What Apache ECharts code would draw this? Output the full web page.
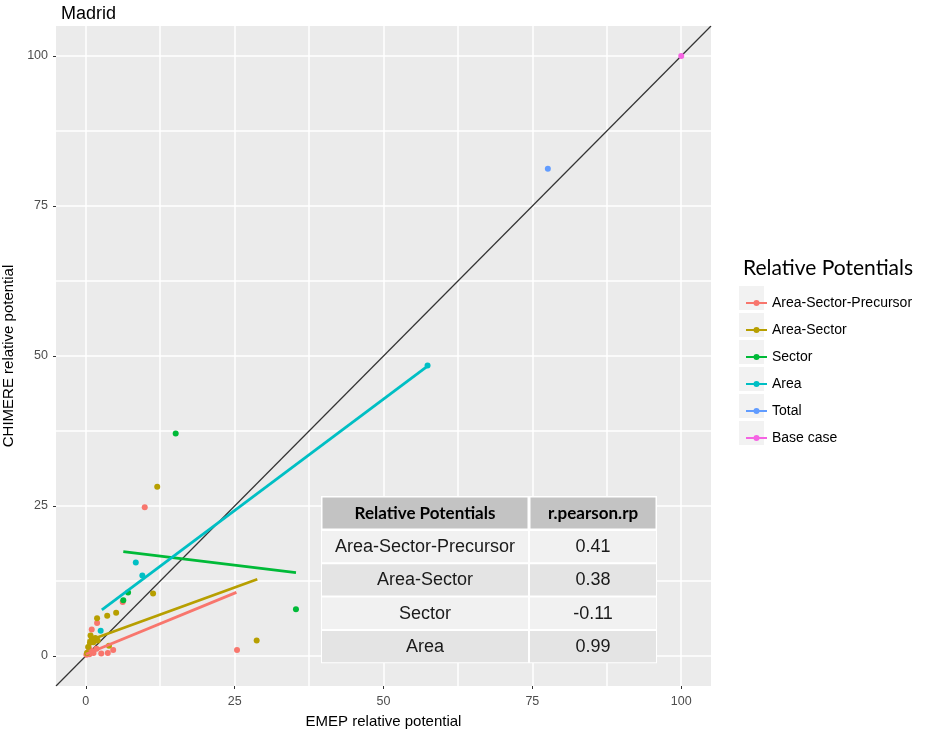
<!DOCTYPE html>
<html>
<head>
<meta charset="utf-8">
<script src="https://cdn.jsdelivr.net/npm/echarts@6/dist/echarts.min.js"></script>
<style>
html,body{margin:0;padding:0;background:#fff;}
#chart{width:925px;height:733px;}
</style>
</head>
<body>
<div id="chart"></div>
<script>
// ---- data ----
const categories = ['Area-Sector-Precursor', 'Area-Sector', 'Sector', 'Area', 'Total', 'Base case'];

const aspPoints = [[0.1,0.2],[0.3,0.6],[0.6,0.3],[0.9,0.9],[1.3,0.5],[0.5,1.4],[1.8,1.2],[2.6,0.4],[3.7,0.5],[4.6,1.0],[1.0,4.4],[1.9,5.5],[6.2,9.0],[9.9,24.8],[25.4,1.0]];
const asPoints = [[0.2,0.5],[0.4,1.5],[0.7,2.2],[1.0,2.8],[1.3,2.3],[1.6,3.0],[2.0,2.6],[0.8,3.4],[3.9,1.7],[1.9,6.3],[3.6,6.7],[5.1,7.2],[11.3,10.4],[12.0,28.2],[28.7,2.6]];
const sectorPoints = [[6.3,9.3],[7.1,10.6],[15.1,37.1],[35.3,7.8]];
const areaPoints = [[2.5,4.2],[8.4,15.6],[9.5,13.4],[57.4,48.4]];
const totalPoints = [[77.6,81.2]];
const baseCasePoints = [[100,100]];

const aspFit = [[0.0,0.3],[25.3,10.6]];
const asFit = [[0.3,2.5],[28.8,12.8]];
const sectorFit = [[6.3,17.4],[35.3,13.9]];
const areaFit = [[2.7,7.7],[57.4,48.3]];
const identityLine = [[-5,-5],[105,105]];

const tickValues = [0, 25, 50, 75, 100];
const gridValues = [0, 12.5, 25, 37.5, 50, 62.5, 75, 87.5, 100];

const tableHeader = ['Relative Potentials', 'r.pearson.rp'];
const tableNames = ['Area-Sector-Precursor', 'Area-Sector', 'Sector', 'Area'];
const tableR = ['0.41', '0.38', '-0.11', '0.99'];

// ---- style ----
const palette = ['#F8766D', '#B79F00', '#00BA38', '#00BFC4', '#619CFF', '#F564E3'];
const FONT = '"Liberation Sans", Arial, sans-serif';

const pointSets = [aspPoints, asPoints, sectorPoints, areaPoints, totalPoints, baseCasePoints];
const fitSets = [aspFit, asFit, sectorFit, areaFit];

const chart = echarts.init(document.getElementById('chart'));

const series = [];
series.push({
  name: 'identity', type: 'line', data: identityLine, xAxisIndex: 0, yAxisIndex: 0,
  symbol: 'none', silent: true, z: 1,
  lineStyle: { color: '#333333', width: 1.2 }
});
categories.forEach((c, i) => {
  series.push({
    name: c, type: 'scatter', data: pointSets[i], xAxisIndex: 0, yAxisIndex: 0,
    symbol: 'circle', symbolSize: 6, z: 2,
    itemStyle: { color: palette[i], opacity: 1 }
  });
});
fitSets.forEach((f, i) => {
  series.push({
    name: categories[i], type: 'line', data: f, xAxisIndex: 0, yAxisIndex: 0,
    symbol: 'none', z: 3,
    itemStyle: { color: palette[i] },
    lineStyle: { color: palette[i], width: 2.8 }
  });
});

const legendIcon = 'path://M0,0h0.01v0.01h-0.01z M20.99,26.99h0.01v0.01h-0.01z M0,12.5h7.6v2h-7.6z M13.4,12.5h7.6v2h-7.6z M7.5,13.5a3,3 0 1,1 6,0a3,3 0 1,1 -6,0z';

// table graphic
const tbl = { left: 321, top: 496, w1: 208, w2: 128, hh: 34, rh: 33.3 };
const tableEls = [];
const tblW = tbl.w1 + tbl.w2, tblH = tbl.hh + tbl.rh * tableNames.length;
tableEls.push({ type: 'rect', shape: { x: tbl.left, y: tbl.top, width: tblW, height: tblH }, style: { fill: '#ffffff' }, z: 10 });
[tbl.w1, tbl.w2].forEach((w, j) => {
  const x = tbl.left + (j === 0 ? 0 : tbl.w1);
  tableEls.push({ type: 'rect', shape: { x: x + 1.5, y: tbl.top + 1.5, width: w - 3, height: tbl.hh - 3 }, style: { fill: '#c3c3c3' }, z: 11 });
  tableEls.push({ type: 'text', x: x + w / 2, y: tbl.top + tbl.hh / 2 + 1, style: { text: tableHeader[j], fill: '#000', font: 'bold 17px Lato, "Open Sans", sans-serif', align: 'center', verticalAlign: 'middle' }, z: 12 });
});
tableNames.forEach((n, r) => {
  const y = tbl.top + tbl.hh + r * tbl.rh;
  const fill = r % 2 === 0 ? '#f1f1f1' : '#e4e4e4';
  [n, tableR[r]].forEach((t, j) => {
    const w = j === 0 ? tbl.w1 : tbl.w2;
    const x = tbl.left + (j === 0 ? 0 : tbl.w1);
    tableEls.push({ type: 'rect', shape: { x: x + 1, y: y + 1, width: w - 2, height: tbl.rh - 2 }, style: { fill: fill }, z: 11 });
    tableEls.push({ type: 'text', x: x + w / 2, y: y + tbl.rh / 2 + 0.5, style: { text: t, fill: '#1a1a1a', font: '18px ' + FONT, align: 'center', verticalAlign: 'middle' }, z: 12 });
  });
});
// legend key backgrounds
categories.forEach((c, i) => {
  tableEls.push({ type: 'rect', shape: { x: 739, y: 286 + 27 * i, width: 25, height: 24 }, style: { fill: '#f2f2f2' }, z: 1 });
});

const option = {
  animation: false,
  backgroundColor: '#ffffff',
  title: [
    { text: 'Madrid', left: 56, top: 0, textStyle: { fontFamily: FONT, fontSize: 18, fontWeight: 'normal', color: '#000' } },
    { text: 'Relative Potentials', left: 738, top: 253, textStyle: { fontFamily: 'Lato, "Open Sans", sans-serif', fontSize: 21, fontWeight: 'normal', color: '#000' } }
  ],
  grid: { left: 56, top: 26, right: 214, bottom: 47, show: true, backgroundColor: '#ebebeb', borderWidth: 0, containLabel: false, outerBoundsMode: 'none' },
  legend: {
    orient: 'vertical', left: 741, top: 284.5, itemWidth: 21, itemHeight: 27, itemGap: 0,
    selectedMode: false,
    data: categories.map(c => ({ name: c, icon: legendIcon })),
    textStyle: { fontFamily: FONT, fontSize: 14, color: '#000' }
  },
  xAxis: [
    {
      type: 'value', min: -5, max: 105, gridIndex: 0, position: 'bottom',
      name: 'EMEP relative potential', nameLocation: 'middle', nameGap: 28,
      nameTextStyle: { fontFamily: FONT, fontSize: 15, color: '#000' },
      axisLine: { show: false, onZero: false },
      axisTick: { show: true, customValues: tickValues, length: 3, lineStyle: { color: '#333', width: 1 } },
      axisLabel: { customValues: tickValues, margin: 9, fontFamily: FONT, fontSize: 12.5, color: '#4d4d4d' },
      splitLine: { show: false }
    },
    {
      type: 'value', min: -5, max: 105, gridIndex: 0, position: 'bottom',
      axisLine: { show: false, onZero: false },
      axisTick: { show: false, customValues: gridValues },
      axisLabel: { show: false },
      splitLine: { show: true, lineStyle: { color: '#ffffff', width: 1.5 } }
    }
  ],
  yAxis: [
    {
      type: 'value', min: -5, max: 105, gridIndex: 0, position: 'left',
      name: 'CHIMERE relative potential', nameLocation: 'middle', nameGap: 40,
      nameTextStyle: { fontFamily: FONT, fontSize: 15, color: '#000' },
      axisLine: { show: false, onZero: false },
      axisTick: { show: true, customValues: tickValues, length: 3, lineStyle: { color: '#333', width: 1 } },
      axisLabel: { customValues: tickValues, margin: 8, fontFamily: FONT, fontSize: 12.5, color: '#4d4d4d' },
      splitLine: { show: false }
    },
    {
      type: 'value', min: -5, max: 105, gridIndex: 0, position: 'left',
      axisLine: { show: false, onZero: false },
      axisTick: { show: false, customValues: gridValues },
      axisLabel: { show: false },
      splitLine: { show: true, lineStyle: { color: '#ffffff', width: 1.5 } }
    }
  ],
  series: series,
  graphic: { elements: tableEls }
};
chart.setOption(option);
</script>
</body>
</html>
